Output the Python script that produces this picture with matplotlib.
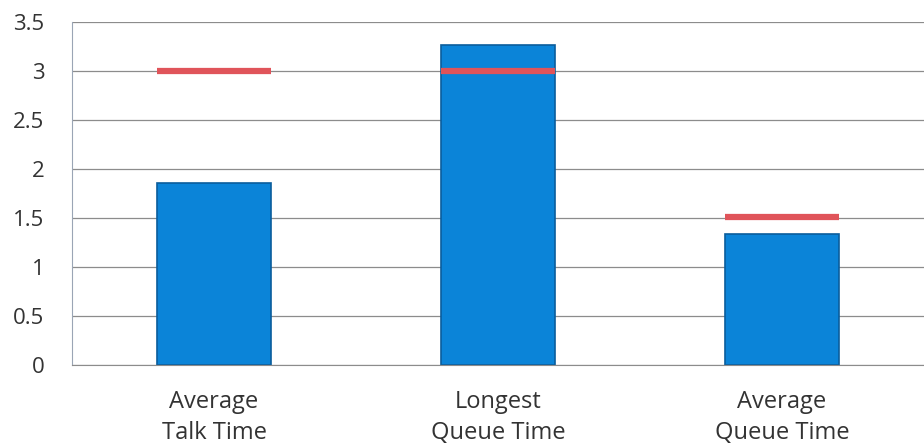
import matplotlib
matplotlib.use('Agg')
import matplotlib.pyplot as plt
import numpy as np

# Data
categories = ['Average\nTalk Time', 'Longest\nQueue Time', 'Average\nQueue Time']
actual = [1.86, 3.27, 1.34]
target = [3.0, 3.0, 1.51]
yticks = [0, 0.5, 1, 1.5, 2, 2.5, 3, 3.5]
ytick_labels = ['0', '0.5', '1', '1.5', '2', '2.5', '3', '3.5']

BAR_COLOR = '#0b84d8'
BAR_EDGE = '#0a5d9c'
TARGET_COLOR = '#e0545a'
BAR_WIDTH = 0.4

plt.rcParams['font.family'] = ['Open Sans', 'DejaVu Sans']

fig = plt.figure(figsize=(9.24, 4.45), dpi=100)
ax = fig.add_axes([72 / 924, 1 - 365 / 445, 852 / 924, 343 / 445])

x = np.arange(len(categories))
ax.bar(x, actual, width=BAR_WIDTH, color=BAR_COLOR, edgecolor=BAR_EDGE,
       linewidth=1.2, zorder=2)

# Target markers drawn as thick horizontal dashes across each bar
for xi, t in zip(x, target):
    ax.hlines(t, xi - BAR_WIDTH / 2, xi + BAR_WIDTH / 2, color=TARGET_COLOR,
              linewidth=4.5, zorder=3)

ax.set_xlim(-0.5, 2.5)
ax.set_ylim(0, 3.5)
ax.set_yticks(yticks)
ax.set_yticklabels(ytick_labels, fontsize=16, color='#333333')
ax.set_xticks(x)
ax.set_xticklabels(categories, fontsize=17, color='#333333', linespacing=1.4)
ax.tick_params(axis='both', length=0)
ax.tick_params(axis='y', pad=20)
ax.tick_params(axis='x', pad=18)

ax.yaxis.grid(True, color='#8c8c8c', linewidth=0.9, zorder=0)
ax.set_axisbelow(True)
for side in ['top', 'right']:
    ax.spines[side].set_visible(False)
ax.spines['left'].set_color('#9aa5b5')
ax.spines['bottom'].set_color('#8c8c8c')

fig.savefig('out.png', dpi=100)
